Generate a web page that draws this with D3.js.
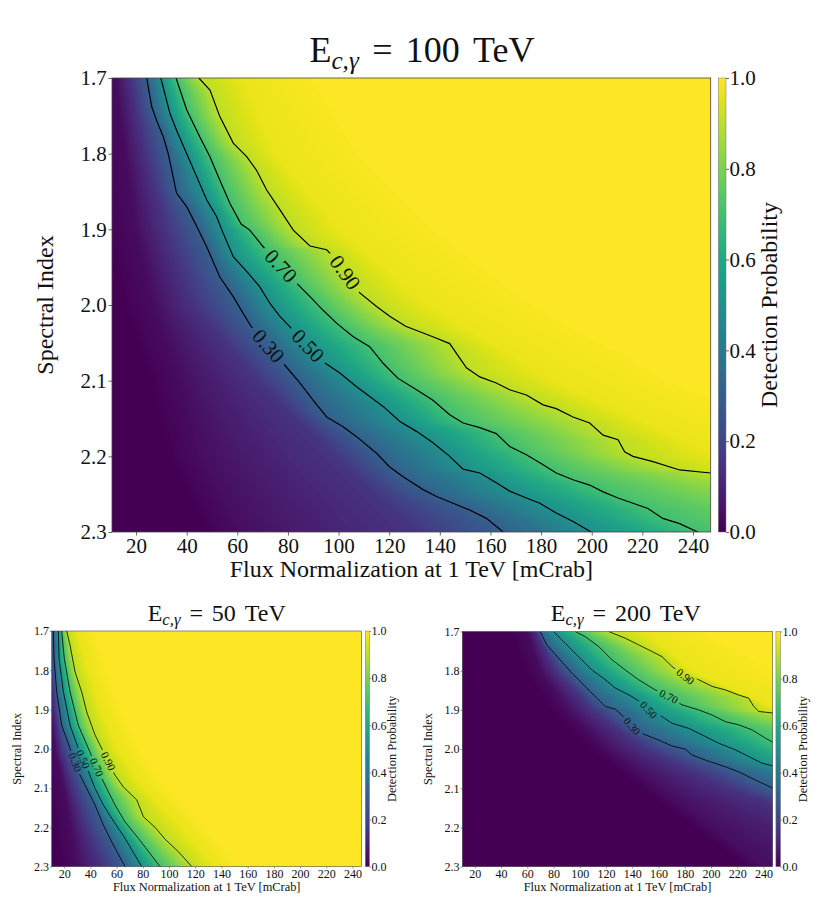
<!DOCTYPE html>
<html>
<head>
<meta charset="utf-8">
<script src="https://cdn.jsdelivr.net/npm/d3@7"></script>
<style>
body { margin: 0; background: #fff; }
svg text { font-family: "Liberation Serif", "DejaVu Serif", serif; fill: #111; }
</style>
</head>
<body>
<svg id="chart" width="817" height="907"></svg>
<script>
// axis ranges and ticks
const fluxDomain = [10.5, 247];
const indexDomain = [1.7, 2.3];
const fluxTicks = [20, 40, 60, 80, 100, 120, 140, 160, 180, 200, 220, 240];
const indexTicks = [1.7, 1.8, 1.9, 2.0, 2.1, 2.2, 2.3];
const probTicks = [0, 0.2, 0.4, 0.6, 0.8, 1.0];

// drawn contour levels, plus the shading guide levels (not drawn)
const contourLevels = [0.3, 0.5, 0.7, 0.9];
const guideLevels = [0.03, 0.15, 0.97, 1.0];

// ---- E = 100 TeV : contour lines as [flux, index]
const e100_c30 = [[24.2,1.700],[26.2,1.738],[28.1,1.756],[30.8,1.778],[32.7,1.800],[34.1,1.822],[36.0,1.852],[40.0,1.870],[43.5,1.893],[47.9,1.923],[53.1,1.963],[58.4,1.989],[62.3,2.011],[65.6,2.029],[78.1,2.077],[84.7,2.103],[90.0,2.126],[95.3,2.148],[101.8,2.161],[107.1,2.174],[115.0,2.196],[120.2,2.214],[125.5,2.227],[133.4,2.244],[138.7,2.253],[145.2,2.262],[151.8,2.271],[158.4,2.282],[165.0,2.300]];
const e100_c50 = [[29.8,1.700],[31.7,1.725],[33.4,1.747],[36.0,1.769],[40.0,1.800],[43.9,1.830],[47.9,1.861],[51.8,1.883],[54.4,1.905],[58.4,1.936],[64.3,1.958],[68.9,1.976],[72.9,1.998],[76.8,2.015],[80.8,2.029],[93.9,2.075],[100.5,2.090],[107.1,2.108],[112.3,2.121],[117.6,2.134],[124.2,2.154],[130.8,2.167],[137.3,2.182],[143.9,2.200],[149.2,2.217],[155.8,2.222],[162.3,2.235],[167.6,2.246],[174.2,2.255],[179.5,2.262],[186.0,2.275],[192.6,2.286],[199.8,2.300]];
const e100_c70 = [[35.8,1.700],[40.0,1.742],[45.2,1.778],[49.2,1.804],[53.1,1.835],[57.1,1.866],[61.5,1.893],[64.9,1.901],[70.2,1.923],[83.4,1.971],[88.7,1.989],[93.9,2.007],[99.2,2.024],[105.8,2.042],[112.3,2.055],[117.6,2.077],[123.5,2.097],[130.8,2.112],[137.3,2.126],[143.9,2.145],[149.2,2.156],[155.8,2.162],[162.3,2.170],[167.6,2.187],[174.2,2.198],[180.8,2.211],[186.0,2.222],[192.6,2.231],[199.2,2.238],[204.5,2.247],[210.4,2.255],[216.3,2.262],[222.2,2.269],[228.1,2.282],[234.7,2.289],[241.9,2.300]];
const e100_c90 = [[44.8,1.700],[49.2,1.716],[53.1,1.751],[58.4,1.786],[63.7,1.804],[67.6,1.822],[71.6,1.848],[76.8,1.874],[82.1,1.901],[88.7,1.922],[95.3,1.927],[97.9,1.936],[108.4,1.984],[115.0,2.002],[120.2,2.015],[126.5,2.028],[133.4,2.037],[138.7,2.044],[143.9,2.051],[150.5,2.083],[155.8,2.095],[162.3,2.103],[167.6,2.112],[174.2,2.119],[180.8,2.132],[186.0,2.137],[192.6,2.148],[199.2,2.156],[204.5,2.172],[210.4,2.178],[213.0,2.194],[216.3,2.200],[224.2,2.207],[234.7,2.218],[247.0,2.222]];
const e100_g03 = [[12,1.7],[16,1.8],[20,1.9],[27,2.0],[38,2.1],[45,2.2],[60,2.3]];
const e100_g15 = [[18,1.7],[24,1.8],[32,1.9],[43,2.0],[68,2.1],[98,2.2],[130,2.3]];
const e100_g97 = [[62,1.7],[75,1.8],[100,1.9],[135,2.0],[185,2.1],[250,2.2],[320,2.3]];
const e100_g100 = [[95,1.7],[115,1.8],[145,1.9],[185,2.0],[240,2.1],[310,2.2],[390,2.3]];
const e100_labelFlux = [72.2, 87.9, 77.2, 102.5];

// ---- E = 50 TeV
const e50_c30 = [[11.7,1.700],[12.3,1.770],[14.3,1.855],[18.1,1.940],[24.5,1.999],[30.8,2.058],[35.9,2.092],[43.6,2.143],[49.9,2.194],[56.3,2.237],[66.5,2.300]];
const e50_c50 = [[15.6,1.700],[16.1,1.770],[19.4,1.855],[24.5,1.940],[30.8,1.999],[38.5,2.058],[43.6,2.101],[49.9,2.143],[56.3,2.177],[66.5,2.228],[79.2,2.300]];
const e50_c70 = [[18.1,1.700],[20.1,1.770],[24.5,1.855],[30.8,1.940],[38.5,1.999],[46.1,2.058],[52.5,2.101],[58.8,2.143],[66.5,2.186],[76.7,2.228],[93.2,2.300]];
const e50_c90 = [[21.9,1.700],[24.5,1.736],[28.3,1.804],[33.4,1.855],[37.2,1.906],[43.6,1.965],[51.2,2.016],[58.8,2.067],[65.2,2.097],[75.4,2.130],[80.5,2.173],[89.4,2.200],[97.0,2.230],[107.2,2.262],[117.4,2.300]];
const e50_g03 = [[5,1.7],[7,1.8],[9,1.9],[13,2.0],[20,2.1],[25,2.2],[30,2.3]];
const e50_g15 = [[9,1.7],[10,1.8],[13,1.9],[18,2.0],[27,2.1],[37,2.2],[50,2.3]];
const e50_g97 = [[30,1.7],[38,1.8],[48,1.9],[60,2.0],[80,2.1],[110,2.2],[135,2.3]];
const e50_g100 = [[45,1.7],[55,1.8],[65,1.9],[80,2.0],[100,2.1],[130,2.2],[155,2.3]];
const e50_labelFlux = [28.3, 34.4, 44.7, 53.5];

// ---- E = 200 TeV
const e200_c30 = [[69.8,1.700],[74.9,1.734],[83.8,1.768],[94.0,1.806],[104.1,1.840],[111.8,1.866],[119.4,1.891],[127.0,1.898],[132.1,1.913],[139.7,1.942],[147.4,1.960],[160.1,1.977],[170.2,1.992],[180.4,2.000],[185.5,2.015],[195.7,2.028],[210.9,2.045],[221.1,2.058],[233.8,2.079],[247.3,2.100]];
const e200_c50 = [[80.0,1.700],[88.9,1.730],[99.0,1.764],[109.2,1.798],[119.4,1.823],[127.0,1.844],[139.7,1.866],[147.4,1.883],[152.4,1.900],[162.6,1.917],[170.2,1.934],[183.0,1.947],[195.7,1.968],[205.8,1.985],[218.6,2.002],[228.7,2.019],[238.9,2.036],[247.3,2.043]];
const e200_c70 = [[96.5,1.700],[104.1,1.713],[114.3,1.738],[124.5,1.772],[134.6,1.798],[144.8,1.823],[157.5,1.849],[167.7,1.866],[177.9,1.887],[190.6,1.900],[200.8,1.913],[210.9,1.930],[221.1,1.938],[231.3,1.951],[241.4,1.972],[247.3,1.983]];
const e200_c90 = [[121.9,1.700],[134.6,1.717],[144.8,1.734],[155.0,1.751],[162.6,1.764],[170.2,1.789],[180.4,1.815],[190.6,1.823],[200.8,1.840],[210.9,1.849],[221.1,1.862],[228.7,1.870],[232.5,1.891],[236.4,1.904],[247.3,1.908]];
const e200_g03 = [[60,1.7],[70,1.8],[90,1.9],[120,2.0],[160,2.1],[200,2.2],[240,2.3]];
const e200_g15 = [[67,1.7],[82,1.8],[110,1.9],[150,2.0],[215,2.1],[300,2.2],[380,2.3]];
const e200_g97 = [[150,1.7],[185,1.8],[250,1.9],[300,2.0]];
const e200_g100 = [[200,1.7],[260,1.8],[320,1.9],[380,2.0]];
const e200_labelFlux = [139.7, 152.4, 167.7, 180.4];

const svg = d3.select("#chart");
const lut = d3.range(256).map(i => d3.rgb(d3.interpolateViridis(i / 255)));
const serif = "'Liberation Serif', 'DejaVu Serif', serif";

// flux where a contour polyline crosses a given spectral index
function crossingAt(pts, s) {
    for (let i = 0; i < pts.length - 1; i++) {
        const [f0, s0] = pts[i], [f1, s1] = pts[i + 1];
        if (s1 !== s0 && s >= Math.min(s0, s1) && s <= Math.max(s0, s1))
            return f0 + (f1 - f0) * (s - s0) / (s1 - s0);
    }
    const first = s < pts[0][1];
    const a = first ? pts[0] : pts[pts.length - 2];
    const b = first ? pts[1] : pts[pts.length - 1];
    let slope = (b[0] - a[0]) / ((b[1] - a[1]) || 1e-6);
    slope = Math.max(-1200, Math.min(1200, slope));
    const ref = first ? a : b;
    return ref[0] + slope * (s - ref[1]);
}

function drawPanel(p) {
    const k = p.k;
    const x = d3.scaleLinear().domain(fluxDomain).range([p.x0, p.x1]);
    const y = d3.scaleLinear().domain(indexDomain).range([p.y0, p.y1]);
    const g = svg.append("g");
    const id = "p" + p.energy;

    // value levels: guides + contours, sorted
    const levels = [
        { v: guideLevels[0], pts: p.guides[0] },
        { v: guideLevels[1], pts: p.guides[1] },
        ...contourLevels.map((v, i) => ({ v, pts: p.contours[i] })),
        { v: guideLevels[2], pts: p.guides[2] },
        { v: guideLevels[3], pts: p.guides[3] }
    ];
    const vs = levels.map(l => l.v);
    const firstC = 2;

    // heatmap on a canvas
    const sc = 2;
    const W = Math.round((p.x1 - p.x0) * sc), H = Math.round((p.y1 - p.y0) * sc);
    const canvas = document.createElement("canvas");
    canvas.width = W; canvas.height = H;
    const ctx = canvas.getContext("2d");
    const img = ctx.createImageData(W, H);
    for (let j = 0; j < H; j++) {
        const s = y.invert(p.y0 + (j + 0.5) / sc);
        const cs = levels.map(l => crossingAt(l.pts, s));
        for (let q = firstC + 1; q < cs.length; q++) cs[q] = Math.max(cs[q], cs[q - 1] + 0.01);
        for (let q = firstC - 1; q >= 0; q--) cs[q] = Math.min(cs[q], cs[q + 1] - 0.01);
        for (let i = 0; i < W; i++) {
            const f = x.invert(p.x0 + (i + 0.5) / sc);
            let v;
            if (f <= cs[0]) v = Math.max(0, vs[0] * (1 - (cs[0] - f) / 12));
            else {
                v = vs[vs.length - 1];
                for (let q = 0; q < cs.length - 1; q++) {
                    if (f <= cs[q + 1]) { v = vs[q] + (vs[q + 1] - vs[q]) * (f - cs[q]) / (cs[q + 1] - cs[q]); break; }
                }
            }
            const c = lut[Math.max(0, Math.min(255, Math.round(v * 255)))];
            const o = (j * W + i) * 4;
            img.data[o] = c.r; img.data[o + 1] = c.g; img.data[o + 2] = c.b; img.data[o + 3] = 255;
        }
    }
    ctx.putImageData(img, 0, 0);
    g.append("image")
        .attr("x", p.x0).attr("y", p.y0)
        .attr("width", p.x1 - p.x0).attr("height", p.y1 - p.y0)
        .attr("preserveAspectRatio", "none")
        .attr("href", canvas.toDataURL());

    // contour labels (positions and angles taken from the lines)
    const labels = contourLevels.map((v, i) => {
        const pts = p.contours[i], lf = p.labelFlux[i];
        let seg = 0;
        for (let q = 0; q < pts.length - 1; q++) {
            if (lf >= Math.min(pts[q][0], pts[q + 1][0]) && lf <= Math.max(pts[q][0], pts[q + 1][0])) { seg = q; break; }
        }
        const a = pts[seg], b = pts[seg + 1];
        const s = a[1] + (b[1] - a[1]) * (lf - a[0]) / ((b[0] - a[0]) || 1e-6);
        let ang = Math.atan2(y(b[1]) - y(a[1]), x(b[0]) - x(a[0])) * 180 / Math.PI;
        if (ang > 90) ang -= 180;
        if (ang < -90) ang += 180;
        return { text: v.toFixed(2), px: x(lf), py: y(s), ang };
    });

    const defs = g.append("defs");
    defs.append("clipPath").attr("id", id + "clip")
        .append("rect").attr("x", p.x0).attr("y", p.y0)
        .attr("width", p.x1 - p.x0).attr("height", p.y1 - p.y0);
    const mask = defs.append("mask").attr("id", id + "mask")
        .attr("maskUnits", "userSpaceOnUse")
        .attr("x", 0).attr("y", 0).attr("width", 817).attr("height", 907);
    mask.append("rect").attr("x", 0).attr("y", 0).attr("width", 817).attr("height", 907).attr("fill", "#fff");
    labels.forEach(l => {
        const w = p.clabel * 2.3, h = p.clabel * 0.9;
        mask.append("rect")
            .attr("x", -w / 2).attr("y", -h / 2).attr("width", w).attr("height", h)
            .attr("transform", `translate(${l.px},${l.py}) rotate(${l.ang})`)
            .attr("fill", "#000");
    });

    const line = d3.line().x(d => x(d[0])).y(d => y(d[1]));
    g.append("g")
        .attr("clip-path", `url(#${id}clip)`)
        .append("g")
        .attr("mask", `url(#${id}mask)`)
        .selectAll("path")
        .data(p.contours)
        .join("path")
        .attr("d", line)
        .attr("fill", "none")
        .attr("stroke", "#000")
        .attr("stroke-width", p.lw);

    g.selectAll("text.clabel")
        .data(labels)
        .join("text")
        .attr("class", "clabel")
        .attr("transform", d => `translate(${d.px},${d.py}) rotate(${d.ang})`)
        .attr("text-anchor", "middle")
        .attr("dy", "0.33em")
        .attr("font-size", p.clabel)
        .text(d => d.text);

    // frame
    g.append("rect")
        .attr("x", p.x0).attr("y", p.y0)
        .attr("width", p.x1 - p.x0).attr("height", p.y1 - p.y0)
        .attr("fill", "none").attr("stroke", "#444").attr("stroke-width", 0.8 * Math.max(k, 0.7));

    // axes
    const yAxis = g.append("g")
        .attr("transform", `translate(${p.x0},0)`)
        .call(d3.axisLeft(y).tickValues(indexTicks).tickFormat(d3.format(".1f"))
            .tickSize(3.5 * k).tickPadding(1.8 * k));
    const xAxis = g.append("g")
        .attr("transform", `translate(0,${p.y1})`)
        .call(d3.axisBottom(x).tickValues(fluxTicks)
            .tickSize(3.5 * k).tickPadding(p.xPad));
    [xAxis, yAxis].forEach(ax => {
        ax.select(".domain").remove();
        ax.selectAll("line").attr("stroke", "#444").attr("stroke-width", 0.8 * Math.max(k, 0.7));
        ax.selectAll("text").attr("font-size", p.tick)
            .attr("font-family", serif).attr("fill", "#111");
    });

    g.append("text")
        .attr("x", (p.x0 + p.x1) / 2).attr("y", p.y1 + p.xLabelOff)
        .attr("text-anchor", "middle").attr("font-size", p.label)
        .text("Flux Normalization at 1 TeV [mCrab]");
    g.append("text")
        .attr("transform", `translate(${p.x0 - 59 * k},${(p.y0 + p.y1) / 2}) rotate(-90)`)
        .attr("text-anchor", "middle").attr("font-size", p.label)
        .text("Spectral Index");

    // title
    const t = g.append("text")
        .attr("x", p.titleX).attr("y", p.titleY)
        .attr("text-anchor", "middle").attr("font-size", p.title)
        .attr("word-spacing", p.title * 0.12);
    t.append("tspan").text("E");
    t.append("tspan").attr("font-style", "italic").attr("font-size", p.title * 0.7)
        .attr("dy", p.title * 0.2).text("c,γ");
    t.append("tspan").attr("dy", -p.title * 0.2).text(" = " + p.energy + " TeV");

    // colorbar
    const gid = id + "grad";
    const grad = defs.append("linearGradient").attr("id", gid)
        .attr("x1", 0).attr("y1", 1).attr("x2", 0).attr("y2", 0);
    d3.range(0, 1.0001, 0.05).forEach(v => {
        grad.append("stop").attr("offset", v).attr("stop-color", d3.interpolateViridis(v));
    });
    const cy = d3.scaleLinear().domain([0, 1]).range([p.y1, p.y0]);
    g.append("rect")
        .attr("x", p.cbx).attr("y", p.y0)
        .attr("width", p.cbw).attr("height", p.y1 - p.y0)
        .attr("fill", `url(#${gid})`)
        .attr("stroke", "#777").attr("stroke-width", 0.5);
    const cAxis = g.append("g")
        .attr("transform", `translate(${p.cbx + p.cbw},0)`)
        .call(d3.axisRight(cy).tickValues(probTicks).tickFormat(d3.format(".1f"))
            .tickSize(3 * k).tickPadding(0.5));
    cAxis.select(".domain").remove();
    cAxis.selectAll("line").attr("stroke", "#444").attr("stroke-width", 0.8 * Math.max(k, 0.7));
    cAxis.selectAll("text").attr("font-size", p.tick)
        .attr("font-family", serif).attr("fill", "#111");
    g.append("text")
        .attr("transform", `translate(${p.cbx + p.cbw + 51 * k},${(p.y0 + p.y1) / 2}) rotate(-90)`)
        .attr("text-anchor", "middle").attr("font-size", p.label)
        .text("Detection Probability");
}

const panels = [
    { energy: 100, k: 1, x0: 112, x1: 710.7, y0: 78, y1: 532, cbx: 718.3, cbw: 7.7,
      tick: 21, label: 24, title: 36, clabel: 21, lw: 1.2, xPad: 3, xLabelOff: 45,
      titleX: 422, titleY: 62,
      contours: [e100_c30, e100_c50, e100_c70, e100_c90],
      guides: [e100_g03, e100_g15, e100_g97, e100_g100], labelFlux: e100_labelFlux },
    { energy: 50, k: 0.52, x0: 51.7, x1: 361.7, y0: 631, y1: 866.7, cbx: 365.3, cbw: 4.2,
      tick: 12, label: 12.4, title: 24, clabel: 11, lw: 0.8, xPad: 1, xLabelOff: 24.5,
      titleX: 216.7, titleY: 620.5,
      contours: [e50_c30, e50_c50, e50_c70, e50_c90],
      guides: [e50_g03, e50_g15, e50_g97, e50_g100], labelFlux: e50_labelFlux },
    { energy: 200, k: 0.52, x0: 462.3, x1: 772.7, y0: 631.5, y1: 866.7, cbx: 775.9, cbw: 4.6,
      tick: 12, label: 12.4, title: 24, clabel: 11, lw: 0.8, xPad: 1, xLabelOff: 24.5,
      titleX: 625.8, titleY: 620.5,
      contours: [e200_c30, e200_c50, e200_c70, e200_c90],
      guides: [e200_g03, e200_g15, e200_g97, e200_g100], labelFlux: e200_labelFlux }
];

panels.forEach(drawPanel);
</script>
</body>
</html>
